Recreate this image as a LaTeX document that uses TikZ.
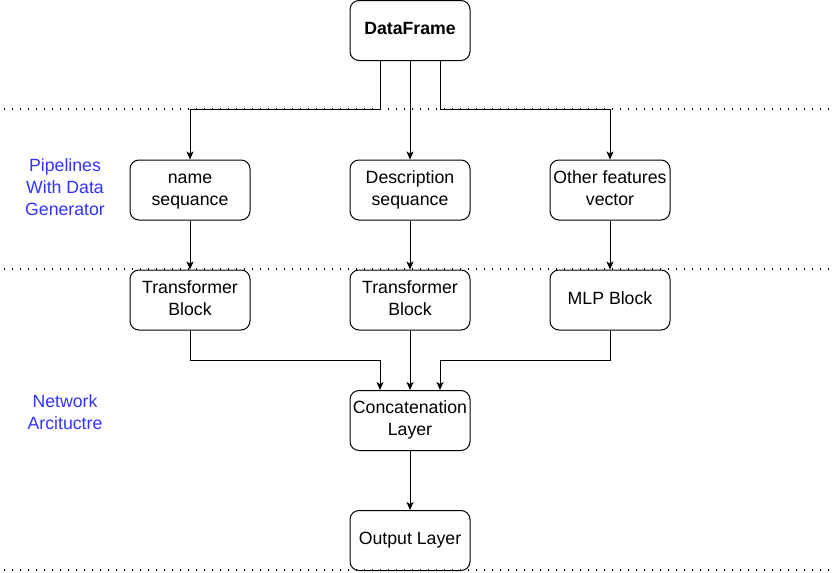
\documentclass[tikz,border=0pt]{standalone}
\usepackage{fontspec}
\setmainfont{Liberation Sans}
\usetikzlibrary{arrows.meta}
\definecolor{lblblue}{RGB}{51,51,255}
\tikzset{
  box/.style={draw=black, line width=1pt, rounded corners=9pt, minimum width=120pt, minimum height=60pt, inner sep=0pt, align=center, font=\fontsize{17.7}{21.7}\selectfont},
  arr/.style={draw=black, line width=1pt, -{Stealth[length=8pt,width=7pt,inset=2pt]}},
  sep/.style={draw=black, line width=1.3pt, dash pattern=on 1.3pt off 6.7pt},
  lbl/.style={text=lblblue, align=center, inner sep=0pt, font=\fontsize{17.7}{21.7}\selectfont}
}
\begin{document}
\begin{tikzpicture}[x=1pt,y=-1pt]
\useasboundingbox (0,0) rectangle (833,573);
% separators
\draw[sep] (4,109) -- (833,109);
\draw[sep] (4,269) -- (833,269);
\draw[sep] (4,570) -- (833,570);
% nodes
\node[box, font=\fontsize{17.7}{21.7}\selectfont\bfseries] (df) at (410,30.5) {\strut DataFrame};
\node[box] (name) at (190,190) {\strut name\\sequance\strut};
\node[box] (desc) at (410,190) {\strut Description\\sequance\strut};
\node[box] (other) at (610,190) {\strut Other features\\vector\strut};
\node[box] (tb1) at (190,300) {\strut Transformer\\Block\strut};
\node[box] (tb2) at (410,300) {\strut Transformer\\Block\strut};
\node[box] (mlp) at (610,300) {\strut MLP Block};
\node[box] (cat) at (410,420.5) {\strut Concatenation\\Layer\strut};
\node[box] (out) at (410,540.5) {\strut Output Layer};
% labels
\node[lbl] (l1) at (65,189) {\strut Pipelines\\With Data\\Generator\strut};
\node[lbl] (l2) at (65,414) {\strut Network\\Arcituctre\strut};
% junctions
\coordinate (j1) at (190,109);
\coordinate (j2) at (610,109);
\coordinate (j3) at (380,360);
\coordinate (j4) at (440,360);
% connectors
\draw[arr] ([xshift=-30pt]df.south) |- (j1) -- (name.north);
\draw[arr] (df.south) -- (desc.north);
\draw[arr] ([xshift=30pt]df.south) |- (j2) -- (other.north);
\draw[arr] (name.south) -- (tb1.north);
\draw[arr] (desc.south) -- (tb2.north);
\draw[arr] (other.south) -- (mlp.north);
\draw[arr] (tb1.south) |- (j3) -- ([xshift=-30pt]cat.north);
\draw[arr] (tb2.south) -- (cat.north);
\draw[arr] (mlp.south) |- (j4) -- ([xshift=30pt]cat.north);
\draw[arr] (cat.south) -- (out.north);
\end{tikzpicture}
\end{document}
